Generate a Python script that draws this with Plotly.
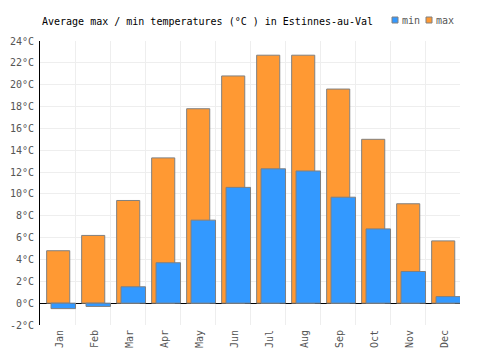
import plotly.graph_objects as go

months = ["Jan", "Feb", "Mar", "Apr", "May", "Jun", "Jul", "Aug", "Sep", "Oct", "Nov", "Dec"]
max_temps = [4.8, 6.2, 9.4, 13.3, 17.8, 20.8, 22.7, 22.7, 19.6, 15.0, 9.1, 5.7]
min_temps = [-0.5, -0.3, 1.5, 3.7, 7.6, 10.6, 12.3, 12.1, 9.7, 6.8, 2.9, 0.6]
y_ticks = list(range(-2, 25, 2))
y_ticktext = [f"{v}°C" for v in y_ticks]

MAX_COLOR = "#FF9933"
MIN_COLOR = "#3399FF"
EDGE = "#808080"
FONT = "DejaVu Sans Mono"
W, H = 500, 350
ML, MR, MT, MB = 40, 40, 41, 25

xpos = [i + 0.5 for i in range(len(months))]

fig = go.Figure()
fig.add_trace(go.Bar(
    x=xpos, y=max_temps, name="max", showlegend=False,
    width=0.66, offset=-0.31,
    marker=dict(color=MAX_COLOR, line=dict(color=EDGE, width=1)),
))
fig.add_trace(go.Bar(
    x=xpos, y=min_temps, name="min", showlegend=False,
    width=0.70, offset=-0.185,
    marker=dict(color=MIN_COLOR, line=dict(color=EDGE, width=1)),
))

# Legend drawn in paper/pixel space (min, then max)
def px_x(p):
    return (p - ML) / (W - ML - MR)

def px_y(p):
    return (H - MB - p) / (H - MT - MB)

legend_items = [("min", MIN_COLOR, 392), ("max", MAX_COLOR, 426)]
shapes = []
annotations = []
for label, color, x0 in legend_items:
    shapes.append(dict(type="rect", xref="paper", yref="paper",
                       x0=px_x(x0), x1=px_x(x0 + 6), y0=px_y(23), y1=px_y(17),
                       fillcolor=color, line=dict(color=EDGE, width=1)))
    annotations.append(dict(xref="paper", yref="paper", x=px_x(x0 + 8), y=px_y(20.5),
                            xanchor="left", yanchor="middle", showarrow=False,
                            text=label, font=dict(family=FONT, size=10, color="#555555")))

annotations.append(dict(xref="paper", yref="paper", x=px_x(40), y=px_y(21),
                        xanchor="left", yanchor="middle", showarrow=False,
                        text="Average max / min temperatures (°C ) in Estinnes-au-Val",
                        font=dict(family=FONT, size=10, color="#000000")))

fig.update_layout(
    width=W, height=H,
    margin=dict(l=ML, r=MR, t=MT, b=MB, pad=0, autoexpand=False),
    barmode="overlay",
    showlegend=False,
    plot_bgcolor="white", paper_bgcolor="white",
    font=dict(family=FONT, size=10, color="#555555"),
    shapes=shapes,
    annotations=annotations,
    xaxis=dict(range=[0, 12], tickvals=xpos, ticktext=months, tickangle=-90,
               showgrid=False, zeroline=False, showline=False, ticks="",
               automargin=False, ticklabelshift=2, ticklabelstandoff=2,
               minor=dict(dtick=1, tick0=0, showgrid=True, gridcolor="#eeeeee", gridwidth=1),
               tickfont=dict(family=FONT, size=10, color="#555555")),
    yaxis=dict(range=[-2, 24], tickvals=y_ticks, ticktext=y_ticktext,
               showgrid=True, gridcolor="#eeeeee", gridwidth=1,
               zeroline=True, zerolinecolor="#000000", zerolinewidth=1,
               showline=True, linecolor="#000000", linewidth=1, ticks="",
               automargin=False, ticklabelstandoff=3,
               tickfont=dict(family=FONT, size=10, color="#555555")),
)

fig.write_html("out.html")
